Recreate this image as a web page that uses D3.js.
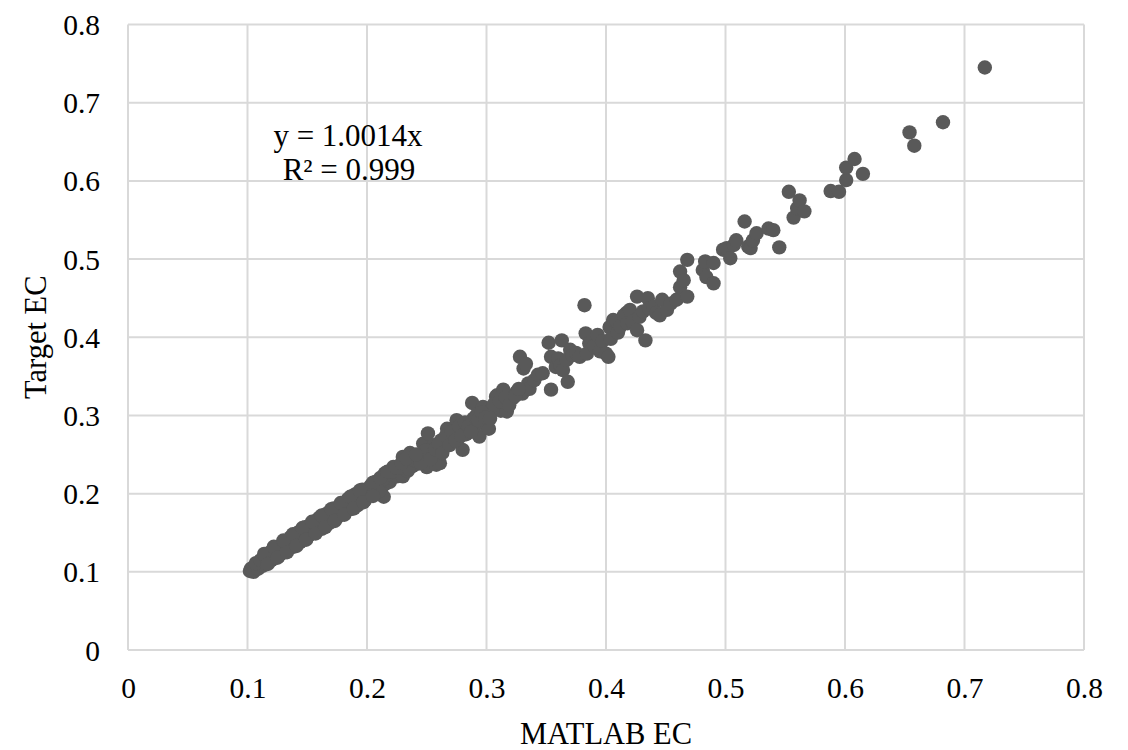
<!DOCTYPE html>
<html>
<head>
<meta charset="utf-8">
<script src="https://cdn.jsdelivr.net/npm/d3@7"></script>
<style>
  html, body { margin: 0; padding: 0; background: #fff; }
  svg { display: block; }
  text { font-family: "Liberation Serif", "Times New Roman", serif; fill: #000; }
</style>
</head>
<body>
<svg id="chart" width="1128" height="750"></svg>
<script>
// ---- Data ----
const matlabEC = [
  0.102,0.103,0.104,0.105,0.106,0.107,0.108,0.109,0.110,0.111,0.112,0.113,0.114,0.115,0.116,0.117,0.118,0.119,0.120,
  0.121,0.122,0.123,0.124,0.125,0.126,0.127,0.128,0.129,0.130,0.131,0.132,0.133,0.134,0.135,0.136,0.137,0.138,0.139,0.140,
  0.141,0.142,0.143,0.144,0.145,0.146,0.147,0.148,0.149,0.150,0.151,0.152,0.153,0.154,0.155,0.156,0.157,0.158,0.159,0.160,
  0.161,0.162,0.163,0.164,0.165,0.166,0.167,0.168,0.169,0.170,0.171,0.172,0.173,0.174,0.175,0.176,0.177,0.178,0.179,0.180,
  0.181,0.182,0.183,0.184,0.185,0.186,0.188,0.189,0.190,0.192,0.194,0.195,0.197,0.198,0.200,0.201,0.203,0.204,0.206,0.207,
  0.208,0.210,0.212,0.214,0.215,0.216,0.218,0.219,0.222,0.221,0.223,0.225,0.226,0.228,0.230,0.230,0.232,0.234,0.236,0.237,
  0.238,0.240,0.242,0.244,0.246,0.247,0.248,0.250,0.251,0.251,0.252,0.254,0.256,0.258,0.258,0.261,0.262,0.264,0.267,0.268,
  0.270,0.272,0.275,0.276,0.278,0.280,0.281,0.283,0.286,0.288,0.289,0.290,0.292,0.294,0.295,0.297,0.297,0.300,0.302,0.304,
  0.308,0.309,0.310,0.312,0.314,0.315,0.317,0.320,0.322,0.325,0.328,0.330,0.331,0.333,0.335,0.336,0.340,0.343,0.347,0.352,
  0.354,0.354,0.358,0.360,0.362,0.363,0.364,0.367,0.368,0.370,0.372,0.375,0.378,0.382,0.383,0.384,0.386,0.390,0.393,0.395,
  0.397,0.400,0.402,0.403,0.404,0.406,0.409,0.410,0.412,0.415,0.417,0.418,0.420,0.422,0.426,0.426,0.428,0.431,0.433,0.435,
  0.436,0.440,0.442,0.445,0.447,0.451,0.454,0.459,0.462,0.462,0.465,0.468,0.468,0.481,0.483,0.484,0.490,0.490,0.498,0.501,
  0.504,0.507,0.509,0.516,0.519,0.521,0.523,0.526,0.536,0.540,0.545,0.553,0.557,0.560,0.562,0.566,0.588,0.595,0.601,0.601,
  0.608,0.615,0.654,0.658,0.682,0.717,
  0.105,0.109,0.113,0.117,0.121,0.125,0.129,0.133,0.137,0.141,0.145,0.149,0.153,0.157,0.161,0.165,0.169,0.173,0.177,0.181,
  0.185,0.189,0.193,0.197,
  0.107,0.111,0.115,0.119,0.123,0.127,0.131,0.135,0.139,0.143,0.147,0.151,0.155,0.159,0.163,0.167,0.171,0.175,0.179,0.183,
  0.187,0.191,0.195,0.199,
  0.203,0.209,0.213,0.217,0.221,0.227,0.231,0.235,0.239,0.243,0.245,0.249,0.253,0.257,0.260,0.263,0.266,0.269,0.271,0.274,
  0.277,0.279,0.282,0.285,0.287,0.291,0.293,0.296,0.299,
  0.303,0.306,0.311,0.316,0.319,0.324,0.327,
  0.118,0.124,0.130,0.136,0.142,0.148,0.154,0.160,0.166,0.172,0.178,0.184,0.190,0.196,
  0.120,0.126,0.132,0.138,0.144,0.150,0.156,0.162,0.168,0.174,0.180,0.186,0.192,0.198,0.204,0.210,
  0.205,0.211,0.217,0.224,0.229,0.233,0.241,
  0.114,0.122,0.130,0.138,0.146,0.154,0.162,0.170,0.178,0.186,0.194,
  0.117,0.125,0.133,0.141,0.149,0.157,0.165,0.173,0.181,0.189,0.197,0.205
];
const targetEC = [
  0.101,0.104,0.102,0.106,0.104,0.108,0.106,0.110,0.107,0.113,0.110,0.115,0.112,0.117,0.113,0.119,0.116,0.121,0.118,
  0.123,0.119,0.125,0.121,0.127,0.123,0.129,0.125,0.131,0.127,0.134,0.129,0.135,0.131,0.137,0.133,0.140,0.135,0.141,0.137,
  0.144,0.139,0.145,0.141,0.148,0.143,0.150,0.145,0.152,0.146,0.154,0.149,0.156,0.151,0.159,0.153,0.163,0.156,0.167,0.158,
  0.164,0.160,0.167,0.161,0.168,0.163,0.171,0.165,0.172,0.167,0.174,0.169,0.177,0.171,0.179,0.173,0.180,0.175,0.183,0.177,
  0.185,0.179,0.186,0.181,0.190,0.183,0.192,0.186,0.193,0.189,0.196,0.191,0.200,0.194,0.203,0.198,0.207,0.200,0.211,0.215,
  0.204,0.213,0.207,0.196,0.226,0.213,0.222,0.215,0.234,0.220,0.226,0.222,0.231,0.225,0.247,0.222,0.236,0.229,0.252,0.241,
  0.235,0.246,0.238,0.250,0.243,0.264,0.252,0.234,0.277,0.237,0.256,0.248,0.262,0.260,0.237,0.239,0.268,0.258,0.283,0.272,
  0.265,0.276,0.294,0.270,0.283,0.256,0.289,0.276,0.281,0.316,0.296,0.287,0.301,0.273,0.291,0.311,0.290,0.301,0.283,0.307,
  0.324,0.326,0.312,0.306,0.333,0.318,0.305,0.322,0.322,0.330,0.375,0.328,0.360,0.366,0.341,0.334,0.345,0.352,0.354,0.393,
  0.375,0.333,0.362,0.373,0.364,0.396,0.358,0.371,0.343,0.384,0.377,0.380,0.375,0.441,0.405,0.379,0.392,0.389,0.403,0.382,
  0.395,0.379,0.375,0.413,0.398,0.422,0.420,0.406,0.414,0.428,0.431,0.418,0.435,0.420,0.452,0.409,0.426,0.433,0.396,0.450,
  0.437,0.439,0.431,0.428,0.448,0.435,0.443,0.448,0.464,0.484,0.473,0.499,0.452,0.486,0.497,0.477,0.469,0.495,0.512,0.514,
  0.501,0.518,0.524,0.548,0.516,0.514,0.524,0.533,0.539,0.537,0.515,0.586,0.553,0.565,0.575,0.561,0.587,0.586,0.601,0.617,
  0.628,0.609,0.662,0.645,0.675,0.745,
  0.100,0.104,0.108,0.112,0.117,0.120,0.124,0.129,0.132,0.136,0.141,0.143,0.148,0.151,0.156,0.159,0.164,0.167,0.172,0.175,
  0.180,0.183,0.188,0.191,
  0.111,0.115,0.120,0.124,0.128,0.132,0.137,0.141,0.145,0.149,0.153,0.158,0.160,0.164,0.168,0.172,0.177,0.180,0.185,0.189,
  0.193,0.196,0.201,0.205,
  0.210,0.209,0.218,0.224,0.228,0.233,0.240,0.232,0.243,0.248,0.239,0.255,0.244,0.257,0.264,0.252,0.274,0.262,0.280,0.268,
  0.286,0.274,0.291,0.286,0.279,0.297,0.294,0.304,0.297,
  0.296,0.314,0.318,0.323,0.313,0.325,0.334,
  0.124,0.131,0.138,0.144,0.150,0.157,0.162,0.169,0.174,0.181,0.186,0.193,0.199,0.205,
  0.115,0.120,0.126,0.132,0.138,0.144,0.150,0.155,0.162,0.168,0.174,0.180,0.185,0.191,0.198,0.203,
  0.214,0.220,0.228,0.234,0.239,0.245,0.250,
  0.123,0.132,0.140,0.148,0.156,0.164,0.172,0.180,0.188,0.196,0.204,
  0.110,0.118,0.125,0.133,0.141,0.149,0.157,0.165,0.173,0.181,0.189,0.197
];
const xTicks = [0, 0.1, 0.2, 0.3, 0.4, 0.5, 0.6, 0.7, 0.8];
const yTicks = [0, 0.1, 0.2, 0.3, 0.4, 0.5, 0.6, 0.7, 0.8];
const xTitle = "MATLAB EC";
const yTitle = "Target EC";
const eqLine1 = "y = 1.0014x";
const eqLine2 = "R² = 0.999";

// ---- Layout ----
const svg = d3.select("#chart");
const L = 128, R = 1084, T = 24.5, B = 650;
const fsTick = 29.5, fsTitle = 30.5, fsEq = 31;
const x = d3.scaleLinear().domain([0, 0.8]).range([L, R]);
const y = d3.scaleLinear().domain([0, 0.8]).range([B, T]);
const fmt = d => d === 0 ? "0" : d3.format(".1f")(d);

// gridlines
const grid = svg.append("g").attr("stroke", "#d9d9d9").attr("stroke-width", 2);
grid.selectAll("line.v").data(xTicks).join("line")
  .attr("x1", d => x(d)).attr("x2", d => x(d)).attr("y1", T).attr("y2", B);
grid.selectAll("line.h").data(yTicks).join("line")
  .attr("x1", L).attr("x2", R).attr("y1", d => y(d)).attr("y2", d => y(d));

// axes (labels via d3 axes)
const xAxis = d3.axisBottom(x).tickValues(xTicks).tickFormat(fmt).tickSize(0).tickPadding(0);
const gx = svg.append("g").attr("transform", `translate(0,${B})`).call(xAxis);
gx.select(".domain").remove();
gx.selectAll("text").attr("font-size", fsTick).attr("dy", null).attr("y", 48)
  .style("font-family", '"Liberation Serif", serif').attr("fill", "#000");

const yAxis = d3.axisLeft(y).tickValues(yTicks).tickFormat(fmt).tickSize(0).tickPadding(0);
const gy = svg.append("g").attr("transform", `translate(${L},0)`).call(yAxis);
gy.select(".domain").remove();
gy.selectAll("text").attr("font-size", fsTick).attr("x", -28).attr("dy", "0.34em")
  .style("font-family", '"Liberation Serif", serif').attr("fill", "#000");

// points
const pts = matlabEC.map((v, i) => ({x: v, y: targetEC[i]}));
svg.append("g").selectAll("circle").data(pts).join("circle")
  .attr("cx", d => x(d.x)).attr("cy", d => y(d.y)).attr("r", 7.2)
  .attr("fill", "#595959");

// titles
svg.append("text").attr("x", (L + R) / 2).attr("y", 744).attr("text-anchor", "middle")
  .attr("font-size", fsTitle).text(xTitle);
svg.append("text").attr("transform", `translate(46,${(T + B) / 2}) rotate(-90)`)
  .attr("text-anchor", "middle").attr("font-size", fsTitle).text(yTitle);

// equation
svg.append("text").attr("x", 348).attr("y", 146).attr("text-anchor", "middle")
  .attr("font-size", fsEq).text(eqLine1);
svg.append("text").attr("x", 349).attr("y", 180).attr("text-anchor", "middle")
  .attr("font-size", fsEq).text(eqLine2);
</script>
</body>
</html>
